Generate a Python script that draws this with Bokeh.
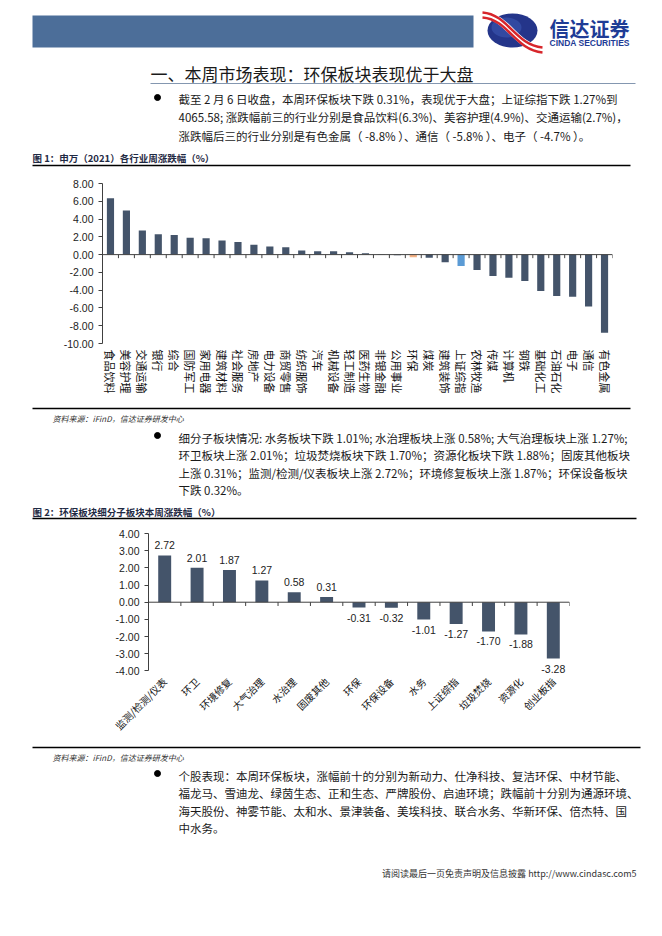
import math
from bokeh.plotting import figure
from bokeh.layouts import column
from bokeh.models import (Range1d, FixedTicker, NumeralTickFormatter, Span, ColumnDataSource,
                          FactorRange, LabelSet)
from bokeh.transform import dodge
from bokeh.core.properties import value
from bokeh.embed import file_html
from bokeh.resources import INLINE

# ---------------- data ----------------
categories1 = ["食品饮料", "美容护理", "交通运输", "银行", "综合", "国防军工", "家用电器", "建筑材料",
               "社会服务", "房地产", "电力设备", "商贸零售", "纺织服饰", "汽车", "机械设备", "轻工制造",
               "医药生物", "非银金融", "公用事业", "环保", "煤炭", "建筑装饰", "上证综指", "农林牧渔",
               "传媒", "计算机", "钢铁", "基础化工", "石油石化", "电子", "通信", "有色金属"]
values1 = [6.33, 4.95, 2.70, 2.30, 2.20, 1.90, 1.84, 1.60,
           1.43, 1.10, 0.90, 0.83, 0.45, 0.38, 0.38, 0.26,
           0.15, 0.03, -0.08, -0.31, -0.34, -0.86, -1.27, -1.73,
           -2.40, -2.60, -2.97, -4.10, -4.66, -4.74, -5.83, -8.80]
yticks1 = [8, 6, 4, 2, 0, -2, -4, -6, -8, -10]

categories2 = ["监测/检测/仪表", "环卫", "环境修复", "大气治理", "水治理", "固废其他", "环保",
               "环保设备", "水务", "上证综指", "垃圾焚烧", "资源化", "创业板指"]
values2 = [2.72, 2.01, 1.87, 1.27, 0.58, 0.31, -0.31, -0.32, -1.01, -1.27, -1.70, -1.88, -3.28]
yticks2 = [4, 3, 2, 1, 0, -1, -2, -3, -4]

title_text = "一、本周市场表现：环保板块表现优于大盘"
para1 = ["截至 2 月 6 日收盘，本周环保板块下跌 0.31%，表现优于大盘；上证综指下跌 1.27%到",
         "4065.58; 涨跌幅前三的行业分别是食品饮料(6.3%)、美容护理(4.9%)、交通运输(2.7%)，",
         "涨跌幅后三的行业分别是有色金属（ -8.8% ）、通信（ -5.8% ）、电子（ -4.7% ）。"]
caption1 = "图 1：申万（2021）各行业周涨跌幅（%）"
source_text = "资料来源：iFinD，信达证券研发中心"
para2 = ["细分子板块情况: 水务板块下跌 1.01%; 水治理板块上涨 0.58%; 大气治理板块上涨 1.27%;",
         "环卫板块上涨 2.01%；垃圾焚烧板块下跌 1.70%；资源化板块下跌 1.88%；固废其他板块",
         "上涨 0.31%；监测/检测/仪表板块上涨 2.72%；环境修复板块上涨 1.87%；环保设备板块",
         "下跌 0.32%。"]
caption2 = "图 2：环保板块细分子板块本周涨跌幅（%）"
para3 = ["个股表现：本周环保板块，涨幅前十的分别为新动力、仕净科技、复洁环保、中材节能、",
         "福龙马、雪迪龙、绿茵生态、正和生态、严牌股份、启迪环境；跌幅前十分别为通源环境、",
         "海天股份、神雾节能、太和水、景津装备、美埃科技、联合水务、华新环保、倍杰特、国",
         "中水务。"]
footer_text = "请阅读最后一页免责声明及信息披露 http://www.cindasc.com5"

# ---------------- styles ----------------
W = 654          # layout is placed at the page origin
M = 8            # reference margin, applied inside the figures
CJK = "Noto Sans CJK SC"
LAT = "Liberation Sans"
BAR = "#44546A"
HIGHLIGHT = {"环保": "#F4B183", "上证综指": "#5B9BD5"}
TXT = "#1a1a1a"


def text_fig(h, top_pad=0):
    p = figure(width=W, height=h + top_pad, x_range=Range1d(-M, W - M), y_range=Range1d(h, -top_pad),
               output_backend="svg", toolbar_location=None, min_border=0,
               x_axis_location=None, y_axis_location=None, frame_align=False)
    p.grid.visible = False
    p.outline_line_color = None
    p.background_fill_color = "white"
    p.border_fill_color = "white"
    return p


def put(p, x, y, s, size, font=CJK, color=TXT, style="normal", align="left"):
    p.text(x=[x], y=[y], text=[s], text_font=value(font), text_font_size=value(size),
           text_color=color, text_font_style=style, text_align=align, text_baseline="middle")


def lines(p, x, y0, dy, items, size):
    for i, s in enumerate(items):
        put(p, x, y0 + i * dy, s, size)


# ---------------- A: header ----------------
pa = text_fig(164, top_pad=M)
pa.quad(left=[24], right=[465], top=[7], bottom=[39], fill_color="#4C6E99", line_color=None)
# logo
pa.ellipse(x=[504], y=[22], width=[50], height=[34], fill_color="#24358A", line_color=None)
pa.ellipse(x=[498], y=[19], width=[30], height=[20], fill_color="#3C57B0", line_color=None, fill_alpha=0.6)
pa.bezier(x0=[474], y0=[6], x1=[534], y1=[41], cx0=[500], cy0=[8], cx1=[506], cy1=[38], line_color="white", line_width=7)
pa.bezier(x0=[474], y0=[4], x1=[534], y1=[39], cx0=[500], cy0=[6], cx1=[506], cy1=[36], line_color="#D7262B", line_width=2.5)
pa.bezier(x0=[474], y0=[9], x1=[534], y1=[44], cx0=[500], cy0=[11], cx1=[506], cy1=[41], line_color="#D7262B", line_width=2.5)
put(pa, 541, 20, "信达证券", "20px", color="#1E3C96", style="bold")
put(pa, 541, 34, "CINDA SECURITIES", "8.5px", font=LAT, color="#1E3C96", style="bold")
put(pa, 142, 65, title_text, "17px")
pa.segment(x0=[142], y0=[75], x1=[627], y1=[75], line_color="#8497B0", line_width=1)
pa.scatter(x=[149], y=[89], size=6, color="black")
lines(pa, 170, 90, 18.5, para1, "11.5px")
put(pa, 24, 149, caption1, "9.5px", color="#1F2A44", style="bold")
pa.segment(x0=[24], y0=[157], x1=[622], y1=[157], line_color="black", line_width=1.3)


def style_chart(p, yticks, tick_font):
    p.xgrid.visible = False
    p.ygrid.visible = False
    p.outline_line_color = None
    p.yaxis.ticker = FixedTicker(ticks=yticks)
    p.yaxis.bounds = (min(yticks), max(yticks))
    p.yaxis.formatter = NumeralTickFormatter(format="0.00")
    p.yaxis.major_label_text_font = LAT
    p.yaxis.major_label_text_font_size = tick_font
    p.yaxis.major_label_text_color = "#222222"
    p.yaxis.major_tick_out = 4
    p.yaxis.major_tick_in = 0
    p.yaxis.minor_tick_out = 0
    p.yaxis.minor_tick_in = 0
    p.yaxis.major_label_standoff = 5
    p.yaxis.axis_line_color = "#404040"
    p.yaxis.major_tick_line_color = "#404040"
    p.xaxis.axis_line_color = None
    p.xaxis.major_tick_line_color = None
    p.xaxis.major_tick_out = 0
    p.xaxis.major_tick_in = 0
    p.xaxis.major_label_text_font = CJK
    p.xaxis.major_label_text_color = "#111111"
    p.add_layout(Span(location=0, dimension="width", line_color="#404040", line_width=1))


def boundary_ticks(p, cats, length):
    src = ColumnDataSource(dict(cat=cats))
    p.segment(x0=dodge("cat", -0.5, range=p.x_range), y0=0,
              x1=dodge("cat", -0.5, range=p.x_range), y1=-length,
              line_color="#404040", line_width=1, source=src)
    src_end = ColumnDataSource(dict(cat=cats[-1:]))
    p.segment(x0=dodge("cat", 0.5, range=p.x_range), y0=0,
              x1=dodge("cat", 0.5, range=p.x_range), y1=-length,
              line_color="#404040", line_width=1, source=src_end)


# ---------------- B: chart 1 ----------------
pb = figure(width=W, height=232, x_range=FactorRange(*categories1), y_range=Range1d(yticks1[-1], yticks1[0]),
            output_backend="svg", toolbar_location=None, frame_align=False,
            min_border_left=94 + M, min_border_right=42, min_border_top=11, min_border_bottom=61)
colors1 = [HIGHLIGHT.get(c, BAR) for c in categories1]
src1 = ColumnDataSource(dict(cat=categories1, val=values1, color=colors1))
pb.vbar(x="cat", top="val", width=0.45, fill_color="color", line_color=None, source=src1)
style_chart(pb, yticks1, "10.5px")
pb.xaxis.major_label_orientation = -math.pi / 2
pb.xaxis.major_label_text_font_size = "11px"
pb.xaxis.major_label_standoff = 6
boundary_ticks(pb, categories1, 0.4)

# ---------------- C: text ----------------
pc = text_fig(120)
pc.segment(x0=[24], y0=[4], x1=[622], y1=[4], line_color="black", line_width=1.3)
put(pc, 44, 14, source_text, "8px", color="#333333", style="italic")
pc.scatter(x=[149], y=[31], size=6, color="black")
lines(pc, 170, 33, 17.5, para2, "11.5px")
put(pc, 24, 107, caption2, "9.5px", color="#1F2A44", style="bold")
pc.segment(x0=[24], y0=[114], x1=[628], y1=[114], line_color="black", line_width=1.3)

# ---------------- D: chart 2 ----------------
# the frame reaches a little below -4.00 so that the last data label is not clipped;
# the axis line itself is bounded to the tick span
pd_ = figure(width=W, height=220, x_range=FactorRange(*categories2), y_range=Range1d(-4.5, yticks2[0]),
             output_backend="svg", toolbar_location=None, frame_align=False,
             min_border_left=140 + M, min_border_right=85, min_border_top=9, min_border_bottom=65)
src2 = ColumnDataSource(dict(cat=categories2, val=values2))
pd_.vbar(x="cat", top="val", width=0.4, fill_color=BAR, line_color=None, source=src2)
style_chart(pd_, yticks2, "10.5px")
pd_.xaxis.major_label_orientation = math.pi / 4
pd_.xaxis.major_label_text_font_size = "10px"
pd_.xaxis.major_label_standoff = 0
boundary_ticks(pd_, categories2, 0.22)
pos = [i for i, v in enumerate(values2) if v >= 0]
neg = [i for i, v in enumerate(values2) if v < 0]
src_pos = ColumnDataSource(dict(cat=[categories2[i] for i in pos], val=[values2[i] for i in pos],
                                lab=[f"{values2[i]:.2f}" for i in pos]))
src_neg = ColumnDataSource(dict(cat=[categories2[i] for i in neg], val=[values2[i] for i in neg],
                                lab=[f"{values2[i]:.2f}" for i in neg]))
pd_.add_layout(LabelSet(x="cat", y="val", text="lab", source=src_pos, text_font=value(LAT),
                        text_font_size=value("10.5px"), text_color="#222222",
                        text_align="center", text_baseline="bottom", y_offset=6))
pd_.add_layout(LabelSet(x="cat", y="val", text="lab", source=src_neg, text_font=value(LAT),
                        text_font_size=value("10.5px"), text_color="#222222",
                        text_align="center", text_baseline="top", y_offset=-6))

# ---------------- E: text ----------------
pe = text_fig(184)
pe.segment(x0=[24], y0=[3], x1=[632], y1=[3], line_color="black", line_width=1.3)
put(pe, 44, 13, source_text, "8px", color="#333333", style="italic")
pe.scatter(x=[149], y=[29], size=6, color="black")
lines(pe, 170, 31, 17.5, para3, "11.5px")
put(pe, 628, 129, footer_text, "9px", color="#333333", align="right")

layout = column(pa, pb, pc, pd_, pe, spacing=0)
open("out.html", "w").write(file_html(layout, INLINE))
